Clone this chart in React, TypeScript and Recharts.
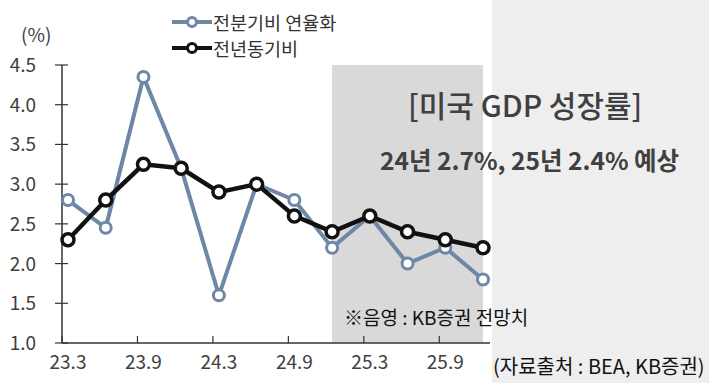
import React from 'react';
import { LineChart, Line, XAxis, YAxis, ReferenceArea, Legend } from 'recharts';

const categories = ['23.3', '23.6', '23.9', '23.12', '24.3', '24.6', '24.9', '24.12', '25.3', '25.6', '25.9', '25.12'];
const qoqAnnualized = [2.8, 2.45, 4.35, 3.2, 1.6, 3.0, 2.8, 2.2, 2.6, 2.0, 2.2, 1.8];
const yoy = [2.3, 2.8, 3.25, 3.2, 2.9, 3.0, 2.6, 2.4, 2.6, 2.4, 2.3, 2.2];
const yTicks = [1.0, 1.5, 2.0, 2.5, 3.0, 3.5, 4.0, 4.5];

const data = categories.map((cat, i) => ({ cat, qoq: qoqAnnualized[i], yoy: yoy[i] }));

const FONT = '"Noto Sans CJK KR", "Noto Sans", sans-serif';
const TEXT = '#404040';
const BLUE = '#6e87a7';
const BLACK = '#111111';

function YTick({ x, y, payload }: any) {
  return (
    <g>
      <line x1={x - 7} x2={x + 6} y1={y} y2={y} stroke="#333" strokeWidth={1.2} />
      <text x={x - 26} y={y + 7} textAnchor="end" fontSize={19} fill={TEXT} fontFamily={FONT}>
        {Number(payload.value).toFixed(1)}
      </text>
    </g>
  );
}

function XTick({ x, y, payload }: any) {
  return (
    <g>
      <line x1={x - 6} x2={x - 6} y1={y} y2={y - 7} stroke="#333" strokeWidth={1.2} />
      <text x={x} y={y + 26} textAnchor="middle" fontSize={19} fill={TEXT} fontFamily={FONT}>
        {payload.value}
      </text>
    </g>
  );
}

function LegendContent() {
  const items = [
    { label: '전분기비 연율화', color: BLUE },
    { label: '전년동기비', color: BLACK },
  ];
  return (
    <div style={{ fontFamily: FONT, fontSize: 18.5, color: '#333', lineHeight: 1 }}>
      {items.map((it) => (
        <div key={it.label} style={{ display: 'flex', alignItems: 'center', height: 26 }}>
          <svg width={40} height={14}>
            <line x1={0} x2={40} y1={7} y2={7} stroke={it.color} strokeWidth={4} />
            <circle cx={20} cy={7} r={4.5} fill="#fff" stroke={it.color} strokeWidth={3} />
          </svg>
          <span style={{ marginLeft: 1 }}>{it.label}</span>
        </div>
      ))}
    </div>
  );
}

export default function App() {
  return (
    <div style={{ position: 'absolute', left: 0, top: 0, width: 709, height: 383, background: '#fff', overflow: 'hidden' }}>
      <div style={{ position: 'absolute', left: 492, top: 0, width: 217, height: 383, background: '#eeeeee' }} />
      <div style={{ position: 'absolute', left: 0, top: 0 }}>
        <LineChart width={709} height={383} data={data} margin={{ top: 65, right: 219, bottom: 0, left: 2 }}>
          <ReferenceArea x1="24.12" x2="25.12" fill="#d9d9d9" fillOpacity={1} stroke="none" ifOverflow="visible" />
          <XAxis
            dataKey="cat"
            height={40}
            interval={1}
            padding={{ left: 6, right: 7 }}
            tickSize={0}
            tickMargin={0}
            tickLine={false}
            axisLine={{ stroke: '#333', strokeWidth: 1.5 }}
            tick={<XTick />}
          />
          <YAxis
            width={60}
            domain={[1, 4.5]}
            ticks={yTicks}
            tickSize={0}
            tickMargin={0}
            tickLine={false}
            axisLine={{ stroke: '#333', strokeWidth: 1.5 }}
            tick={<YTick />}
          />
          <Legend
            layout="vertical"
            verticalAlign="middle"
            align="center"
            wrapperStyle={{ left: 172, top: 9, width: 220 }}
            content={<LegendContent />}
          />
          <Line
            type="linear"
            dataKey="qoq"
            name="전분기비 연율화"
            stroke={BLUE}
            strokeWidth={4}
            dot={{ r: 5.5, fill: '#fff', stroke: BLUE, strokeWidth: 3 }}
            isAnimationActive={false}
          />
          <Line
            type="linear"
            dataKey="yoy"
            name="전년동기비"
            stroke={BLACK}
            strokeWidth={4.5}
            dot={{ r: 6, fill: '#fff', stroke: BLACK, strokeWidth: 3.5 }}
            isAnimationActive={false}
          />
        </LineChart>
      </div>
      <div style={{ position: 'absolute', left: 21, top: 20, fontFamily: FONT, fontSize: 19, color: TEXT }}>(%)</div>
      <div style={{ position: 'absolute', left: 408, top: 82, fontFamily: FONT, fontSize: 30, fontWeight: 500, color: TEXT, whiteSpace: 'nowrap' }}>
        [미국 GDP 성장률]
      </div>
      <div style={{ position: 'absolute', left: 380, top: 142, fontFamily: FONT, fontSize: 24.5, fontWeight: 700, color: TEXT, whiteSpace: 'nowrap' }}>
        24년 2.7%, 25년 2.4% 예상
      </div>
      <div style={{ position: 'absolute', left: 344, top: 303, fontFamily: FONT, fontSize: 19, color: '#111', whiteSpace: 'nowrap' }}>
        ※음영 : KB증권 전망치
      </div>
      <div style={{ position: 'absolute', left: 493, top: 351, fontFamily: FONT, fontSize: 20, color: '#111', whiteSpace: 'nowrap' }}>
        (자료출처 : BEA, KB증권)
      </div>
    </div>
  );
}
